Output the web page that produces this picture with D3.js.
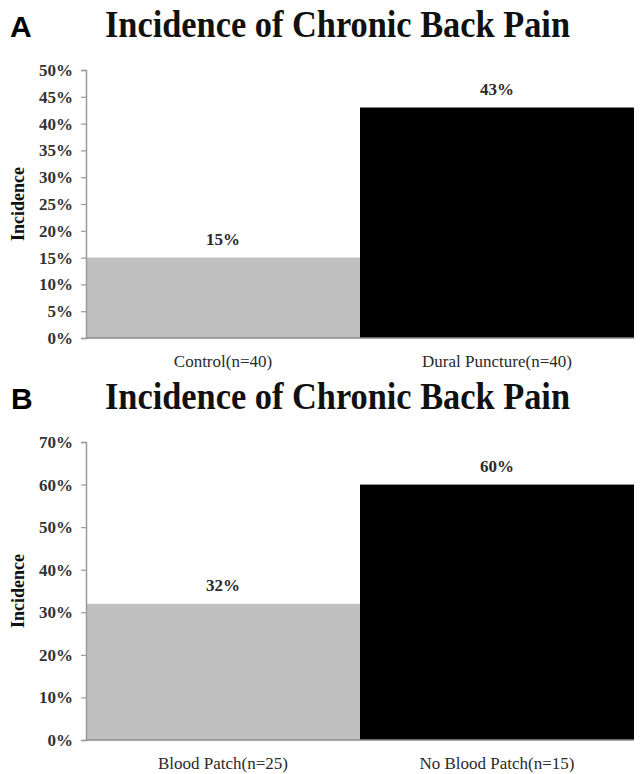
<!DOCTYPE html>
<html>
<head>
<meta charset="utf-8">
<script src="https://cdn.jsdelivr.net/npm/d3@7"></script>
<style>
  html, body { margin: 0; padding: 0; background: #fff; }
  svg { display: block; }
</style>
</head>
<body>
<svg id="chart" width="642" height="774"></svg>
<script>
// Panel A: control vs dural puncture
const categoriesA = ["Control(n=40)", "Dural Puncture(n=40)"];
const valuesA = [0.15, 0.43];
const ticksA = [0, 0.05, 0.10, 0.15, 0.20, 0.25, 0.30, 0.35, 0.40, 0.45, 0.50];

// Panel B: blood patch vs no blood patch
const categoriesB = ["Blood Patch(n=25)", "No Blood Patch(n=15)"];
const valuesB = [0.32, 0.60];
const ticksB = [0, 0.10, 0.20, 0.30, 0.40, 0.50, 0.60, 0.70];

const barColors = ["#c0c0c0", "#000000"];
const title = "Incidence of Chronic Back Pain";
const yLabel = "Incidence";

const svg = d3.select("#chart");
const serif = "'Liberation Serif', 'DejaVu Serif', serif";

function panel(opt) {
  const g = svg.append("g");
  const x = d3.scaleBand().domain(opt.categories).range([opt.left, opt.right]).padding(0);
  const y = d3.scaleLinear().domain([0, opt.max]).range([opt.bottom, opt.top]);

  // panel letter
  g.append("text")
    .attr("x", opt.letterX).attr("y", opt.titleY)
    .attr("font-family", "'Liberation Sans', Arial, sans-serif")
    .attr("font-weight", "bold").attr("font-size", 30)
    .text(opt.letter);

  // title
  g.append("text")
    .attr("x", 105).attr("y", opt.titleY)
    .attr("font-family", serif).attr("font-weight", "bold")
    .attr("font-size", 37)
    .attr("fill", "#111")
    .attr("textLength", 465).attr("lengthAdjust", "spacingAndGlyphs")
    .text(title);

  // bars
  g.selectAll("rect.bar").data(opt.values).join("rect")
    .attr("class", "bar")
    .attr("x", (d, i) => x(opt.categories[i]))
    .attr("width", x.bandwidth())
    .attr("y", d => y(d))
    .attr("height", d => y(0) - y(d))
    .attr("fill", (d, i) => barColors[i]);

  // value labels
  g.selectAll("text.val").data(opt.values).join("text")
    .attr("class", "val")
    .attr("x", (d, i) => x(opt.categories[i]) + x.bandwidth() / 2)
    .attr("y", d => y(d) - 13)
    .attr("text-anchor", "middle")
    .attr("font-family", serif).attr("font-size", 17).attr("font-weight", "bold")
    .attr("fill", "#2a2a2a")
    .text(d => d3.format(".0%")(d));

  // y axis
  const ya = g.append("g")
    .attr("transform", `translate(${opt.left},0)`)
    .call(d3.axisLeft(y).tickValues(opt.ticks).tickFormat(d3.format(".0%")).tickSize(5).tickSizeOuter(5));
  ya.select(".domain").attr("stroke", "#9a9a9a").attr("stroke-width", 1.5);
  ya.selectAll(".tick line").attr("stroke", "#9a9a9a").attr("stroke-width", 1.2);
  ya.selectAll(".tick text")
    .attr("x", -13)
    .attr("font-family", serif).attr("font-size", 17).attr("font-weight", "bold")
    .attr("fill", "#333");

  // baseline
  g.append("line")
    .attr("x1", opt.left).attr("x2", opt.right)
    .attr("y1", y(0)).attr("y2", y(0))
    .attr("stroke", "#8a8a8a").attr("stroke-width", 1.5);

  // category labels
  g.selectAll("text.cat").data(opt.categories).join("text")
    .attr("class", "cat")
    .attr("x", d => x(d) + x.bandwidth() / 2)
    .attr("y", opt.bottom + 29)
    .attr("text-anchor", "middle")
    .attr("font-family", serif).attr("font-size", 17)
    .attr("fill", "#2a2a2a")
    .text(d => d);

  // y axis label
  g.append("text")
    .attr("transform", `translate(24,${(opt.top + opt.bottom) / 2}) rotate(-90)`)
    .attr("text-anchor", "middle")
    .attr("font-family", serif).attr("font-size", 18).attr("font-weight", "bold")
    .attr("fill", "#111")
    .text(yLabel);
}

panel({
  letter: "A", letterX: 10, titleY: 37,
  categories: categoriesA, values: valuesA, ticks: ticksA, max: 0.5,
  left: 86, right: 634, top: 70, bottom: 338
});

panel({
  letter: "B", letterX: 11, titleY: 409,
  categories: categoriesB, values: valuesB, ticks: ticksB, max: 0.7,
  left: 86, right: 634, top: 442, bottom: 740
});
</script>
</body>
</html>
